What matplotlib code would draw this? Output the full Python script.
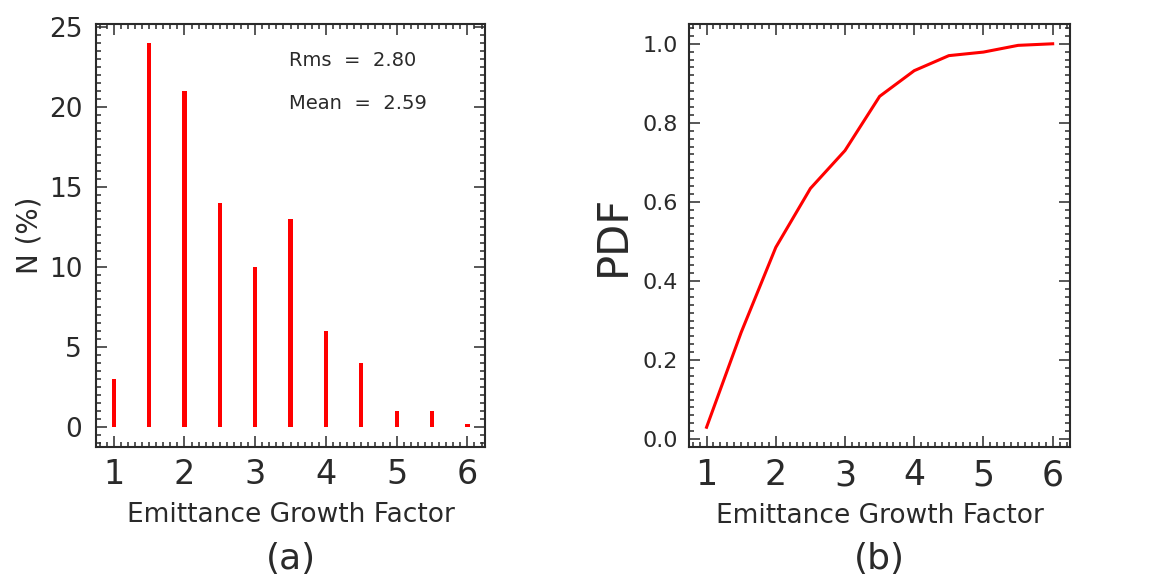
import matplotlib
matplotlib.use('Agg')
import matplotlib.pyplot as plt
from matplotlib.ticker import MultipleLocator, FormatStrFormatter

# emittance growth histogram (percent of runs per bin)
growth = [1.0, 1.5, 2.0, 2.5, 3.0, 3.5, 4.0, 4.5, 5.0, 5.5, 6.0]
npct = [3, 24, 21, 14, 10, 13, 6, 4, 1, 1, 0.15]

# cumulative distribution
cdf = [0.03, 0.27, 0.485, 0.634, 0.73, 0.867, 0.932, 0.97, 0.979, 0.996, 1.0]

rms_txt = 'Rms  =  2.80'
mean_txt = 'Mean  =  2.59'

ink = '#2a2a2a'
plt.rcParams['font.family'] = 'DejaVu Sans'

fig = plt.figure(figsize=(11.53, 5.80), dpi=100)
axA = fig.add_axes([0.0833, 0.2293, 0.3374, 0.7293])
axB = fig.add_axes([0.5978, 0.2293, 0.3302, 0.7293])


def idl_axes(ax, ymaj, ymin, xfs, yfs, ypad):
    ax.set_xlim(0.75, 6.25)
    ax.xaxis.set_major_locator(MultipleLocator(1))
    ax.xaxis.set_minor_locator(MultipleLocator(0.1))
    ax.yaxis.set_major_locator(MultipleLocator(ymaj))
    ax.yaxis.set_minor_locator(MultipleLocator(ymin))
    ax.tick_params(which='both', direction='in', top=True, right=True,
                   color=ink, width=1.1)
    ax.tick_params(which='major', length=8)
    ax.tick_params(which='minor', length=3.5)
    ax.tick_params(axis='x', labelsize=xfs, pad=8, labelcolor=ink)
    ax.tick_params(axis='y', labelsize=yfs, pad=ypad, labelcolor=ink)
    for s in ax.spines.values():
        s.set_color(ink)
        s.set_linewidth(1.5)
    ax.set_xlabel('Emittance Growth Factor', fontsize=19, color=ink,
                  labelpad=8)


# (a) histogram
axA.bar(growth, npct, width=0.06, color='red')
axA.set_ylim(-1.27, 25.17)
idl_axes(axA, 5, 0.5, 24, 19, 10)
axA.set_ylabel('N (%)', fontsize=20, color=ink, labelpad=4)
axA.text(3.475, 22.86, rms_txt, fontsize=14, color=ink, va='center')
axA.text(3.475, 20.23, mean_txt, fontsize=14, color=ink, va='center')
axA.text(0.5, -0.265, '(a)', transform=axA.transAxes, ha='center',
         va='center', fontsize=26, color=ink)

# (b) cumulative curve
axB.plot(growth, cdf, color='red', lw=2.2)
axB.set_ylim(-0.02, 1.05)
idl_axes(axB, 0.2, 0.02, 25, 16, 8)
axB.yaxis.set_major_formatter(FormatStrFormatter('%.1f'))
axB.set_ylabel('PDF', fontsize=30, color=ink, labelpad=6)
axB.text(0.5, -0.265, '(b)', transform=axB.transAxes, ha='center',
         va='center', fontsize=26, color=ink)

fig.savefig('out.png', dpi=100)
